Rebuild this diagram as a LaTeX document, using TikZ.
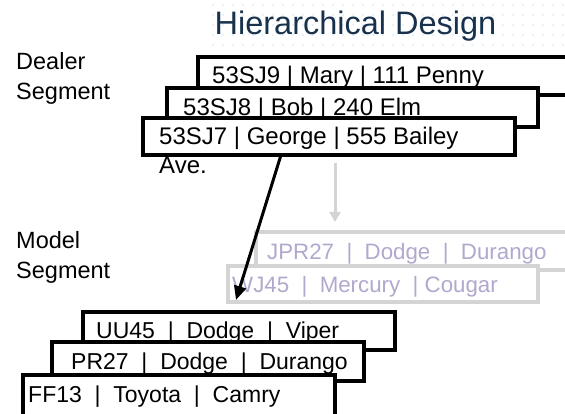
\documentclass[tikz,border=0pt]{standalone}
\usepackage{fontspec}
\setmainfont{Liberation Sans}
\usetikzlibrary{arrows.meta}
\definecolor{titleblue}{RGB}{24,50,78}
\definecolor{dotblue}{RGB}{208,230,240}
\definecolor{boxgray}{RGB}{212,212,212}
\definecolor{greytext}{RGB}{178,168,205}
\tikzset{
  rec/.style={draw=black, line width=4pt, fill=white, inner sep=0pt, outer sep=0pt, anchor=north west},
  grec/.style={draw=boxgray, line width=3.3pt, fill=white, inner sep=0pt, outer sep=0pt, anchor=north west},
  txt/.style={anchor=base west, inner sep=0pt, font=\fontsize{24}{29}\selectfont},
  mtxt/.style={anchor=base west, inner sep=0pt, font=\fontsize{23}{28}\selectfont},
  gtxt/.style={anchor=base west, inner sep=0pt, text=greytext, font=\fontsize{22.3}{28}\selectfont},
  lbl/.style={anchor=base west, inner sep=0pt, align=left, font=\fontsize{23.5}{30}\selectfont},
  blackarrow/.style={line width=3pt, -{Triangle[length=14pt,width=12pt]}},
  grayarrow/.style={draw=boxgray, line width=3pt, -{Triangle[length=10pt,width=11pt]}}
}
\begin{document}
\begin{tikzpicture}[x=1pt,y=-1pt]
\useasboundingbox (0,0) rectangle (565,414);
\clip (0,0) rectangle (565,414);
% dotted decoration
\foreach \x in {213,223,...,563} \foreach \y in {5,15,...,45} \fill[dotblue] (\x,\y) circle (0.9pt);
\node[anchor=base, inner sep=0pt, text=titleblue, font=\fontsize{32.5}{38}\selectfont] (title) at (355.5,35) {Hierarchical Design};
% labels (base = last line)
\node[lbl] (dlab) at (16,100) {Dealer\\Segment};
\node[lbl] (mlab) at (16,278) {Model\\Segment};
% dealer segment
\node[rec, minimum width=420pt, minimum height=38pt] (d1) at (198,57) {};
\node[txt] (d1t) at (212,84) {53SJ9 | Mary | 111 Penny};
\node[rec, minimum width=371pt, minimum height=39pt] (d2) at (167,88) {};
\node[txt] (d2t) at (183,116) {53SJ8 | Bob | 240 Elm};
\node[rec, minimum width=372pt, minimum height=37pt] (d3) at (143,118) {};
\node[txt, align=left] (d3t) at (159,174) {53SJ7 | George | 555 Bailey\\Ave.};
% model segment (gray)
\node[grec, minimum width=400pt, minimum height=38pt] (g1) at (256,232) {};
\node[gtxt] (g1t) at (267,260) {JPR27~~|~~Dodge~~|~~Durango};
\node[grec, minimum width=310pt, minimum height=36pt] (g2) at (228,266) {};
\node[gtxt] (g2t) at (232,292) {WJ45~~|~~Mercury~~| Cougar};
\coordinate (ga) at (335,163);
\coordinate (gb) at (335,222);
\draw[grayarrow] (ga) -- (gb);
% black arrow
\coordinate (as) at ([xshift=138pt]d3.south west);
\coordinate (ae) at (236,300);
\draw[blackarrow] (as) -- (ae);
% model segment (black)
\node[rec, minimum width=312pt, minimum height=38pt] (m1) at (83,312) {};
\node[mtxt] (m1t) at (96,338) {UU45~~|~~Dodge~~|~~Viper};
\node[rec, minimum width=312pt, minimum height=39pt] (m2) at (52,342) {};
\node[mtxt] (m2t) at (71,369) {PR27~~|~~Dodge~~|~~Durango};
\node[rec, minimum width=312pt, minimum height=50pt] (m3) at (23,375) {};
\node[mtxt] (m3t) at (28,402) {FF13~~|~~Toyota~~|~~Camry};
\end{tikzpicture}
\end{document}
